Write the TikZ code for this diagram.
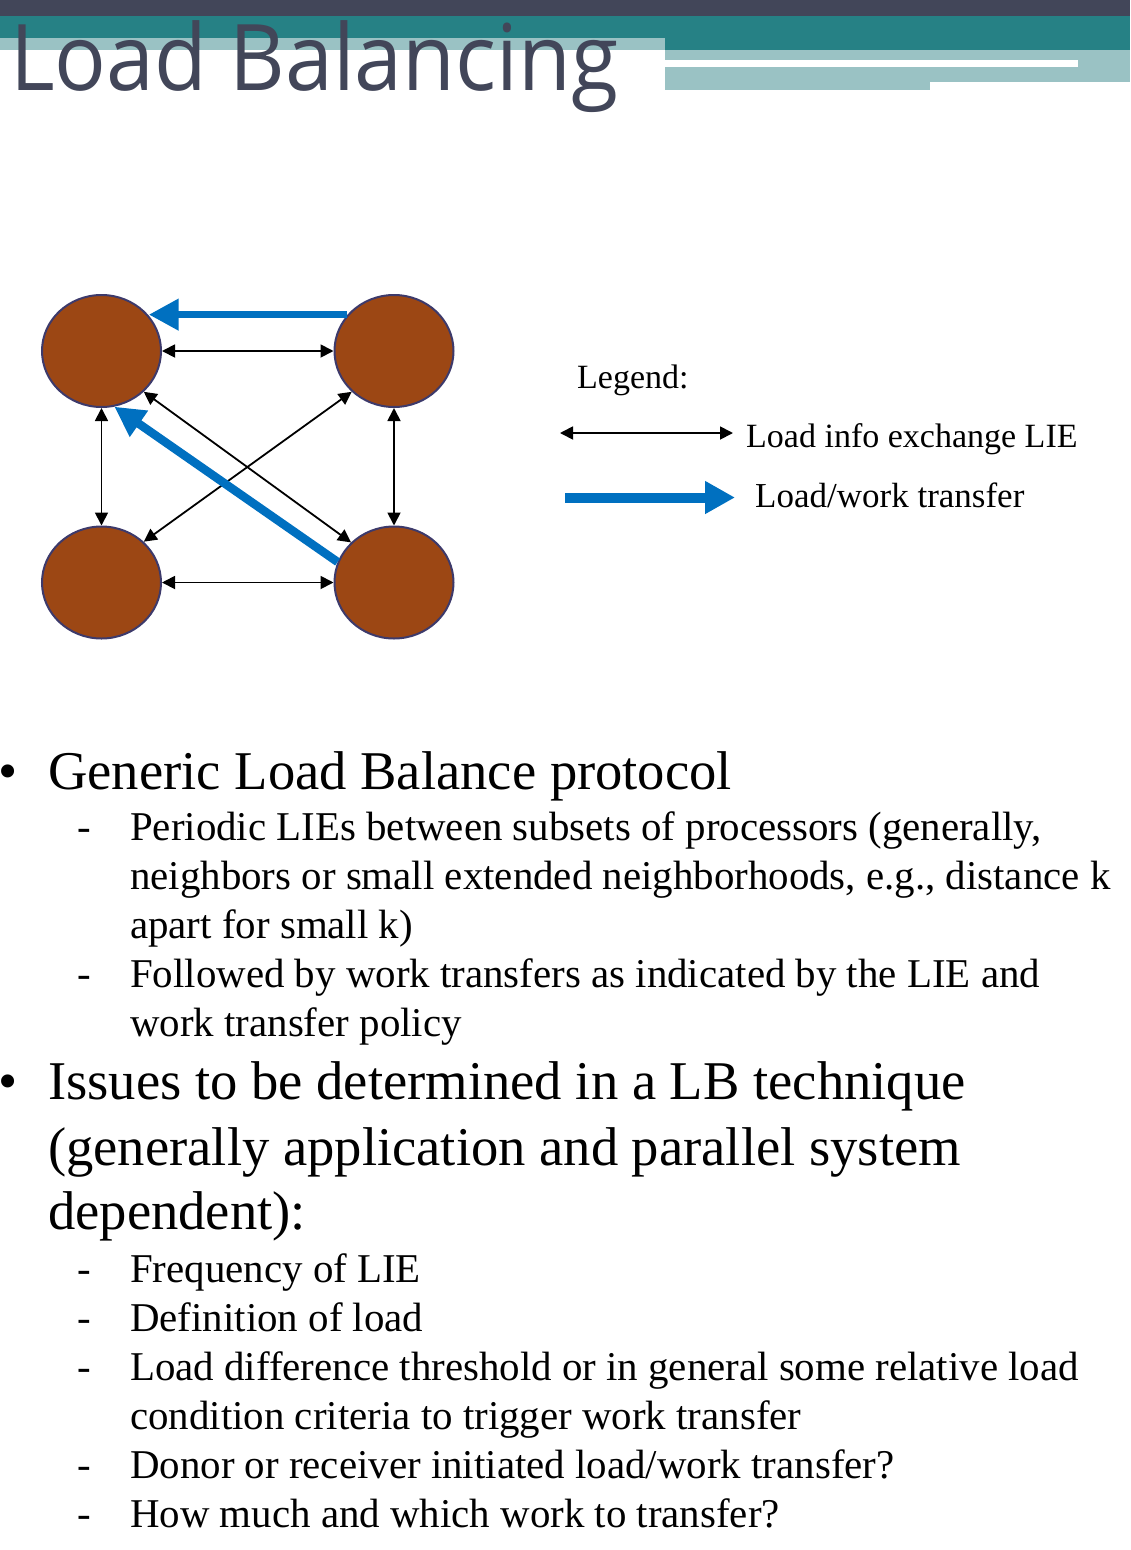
\documentclass[tikz,border=0pt]{standalone}
\usepackage{fontspec}
\setmainfont{Liberation Serif}
\newfontfamily\titlefont{Open Sans}
\usetikzlibrary{shapes.geometric,arrows.meta}
\definecolor{darkbar}{HTML}{424659}
\definecolor{tealbar}{HTML}{268185}
\definecolor{lightteal}{HTML}{9AC2C4}
\definecolor{nodefill}{HTML}{9C4714}
\definecolor{nodeedge}{HTML}{3D3A6B}
\definecolor{xferblue}{HTML}{0070C0}
\begin{document}
\begin{tikzpicture}[x=1pt,y=-1pt,
  proc/.style={ellipse, minimum width=119pt, minimum height=112pt, inner sep=0pt,
    fill=nodefill, draw=nodeedge, line width=2pt},
  lie/.style={line width=1.8pt,
    {Triangle[length=13pt,width=13pt]}-{Triangle[length=13pt,width=13pt]}},
  xfer/.style={draw=xferblue, line width=7.5pt, -{Triangle[length=30pt,width=30pt]}},
  main/.style={anchor=base west, inner sep=0pt, font=\fontsize{54.6pt}{65pt}\selectfont},
  sub/.style={anchor=base west, inner sep=0pt, font=\fontsize{40.9pt}{49pt}\selectfont},
  leg/.style={anchor=base west, inner sep=0pt, font=\fontsize{34pt}{40pt}\selectfont}]
\useasboundingbox (0,0) rectangle (1130,1550);
% header bands
\fill[darkbar] (0,0) rectangle (1130,16);
\fill[tealbar] (0,16) rectangle (1130,50);
\fill[lightteal] (0,38) rectangle (665,50);
\fill[lightteal] (665,50) rectangle (1130,90);
\fill[white] (665,60) rectangle (1078,67);
\fill[white] (930,82) rectangle (1130,90);
\node[anchor=base west, inner sep=0pt, text=darkbar] (title) at (10,90)
  {\scalebox{0.935}[1]{\fontsize{92pt}{92pt}\titlefont Load Balancing}};
% processors
\node[proc] (tl) at (101.5,351) {};
\node[proc] (tr) at (394,351) {};
\node[proc] (bl) at (101.5,582.5) {};
\node[proc] (br) at (394,582.5) {};
% load info exchanges
\draw[lie] (tl) -- (tr);
\draw[lie] (bl) -- (br);
\draw[lie] (tl) -- (bl);
\draw[lie] (tr) -- (br);
\draw[lie] (tl.-44) -- (br.137);
\draw[lie] (tr.-136) -- (bl.44);
% work transfers
\draw[xfer] (tr.142) -- (tr.142 -| tl.37);
\draw[xfer, line width=8.5pt] (br.160) -- (tl.-77);
% legend
\node[leg] (legtitle) at (577,388) {Legend:};
\coordinate (la) at (560,433);
\coordinate (lb) at (733,433);
\draw[lie] (la) -- (lb);
\node[leg] (legl) at (746,447) {Load info exchange LIE};
\coordinate (ta) at (565,497.5);
\coordinate (tb) at (735,497.5);
\draw[draw=xferblue, line width=10pt, -{Triangle[length=30pt,width=31pt]}] (ta) -- (tb);
\node[leg, font=\fontsize{35pt}{40pt}\selectfont] (legt) at (755,507) {Load/work transfer};
% bullets
\node[main] (b1) at (-2,789) {•};
\node[main] (m1) at (48,789) {Generic Load Balance protocol};
\node[sub] (d1) at (77,840) {-};
\node[sub] (s1) at (130,840) {Periodic LIEs between subsets of processors (generally,};
\node[sub] (s2) at (130,889) {neighbors or small extended neighborhoods, e.g., distance k};
\node[sub] (s3) at (130,938) {apart for small k)};
\node[sub] (d4) at (77,987) {-};
\node[sub] (s4) at (130,987) {Followed by work transfers as indicated by the LIE and};
\node[sub] (s5) at (130,1036) {work transfer policy};
\node[main] (b2) at (-2,1099) {•};
\node[main] (m2) at (48,1099) {Issues to be determined in a LB technique};
\node[main] (m3) at (48,1165) {(generally application and parallel system};
\node[main] (m4) at (48,1229) {dependent):};
\node[sub] (d6) at (77,1282) {-};
\node[sub] (s6) at (130,1282) {Frequency of LIE};
\node[sub] (d7) at (77,1331) {-};
\node[sub] (s7) at (130,1331) {Definition of load};
\node[sub] (d8) at (77,1380) {-};
\node[sub] (s8) at (130,1380) {Load difference threshold or in general some relative load};
\node[sub] (s9) at (130,1429) {condition criteria to trigger work transfer};
\node[sub] (d10) at (77,1478) {-};
\node[sub] (s10) at (130,1478) {Donor or receiver initiated load/work transfer?};
\node[sub] (d11) at (77,1527) {-};
\node[sub] (s11) at (130,1527) {How much and which work to transfer?};
\end{tikzpicture}
\end{document}
